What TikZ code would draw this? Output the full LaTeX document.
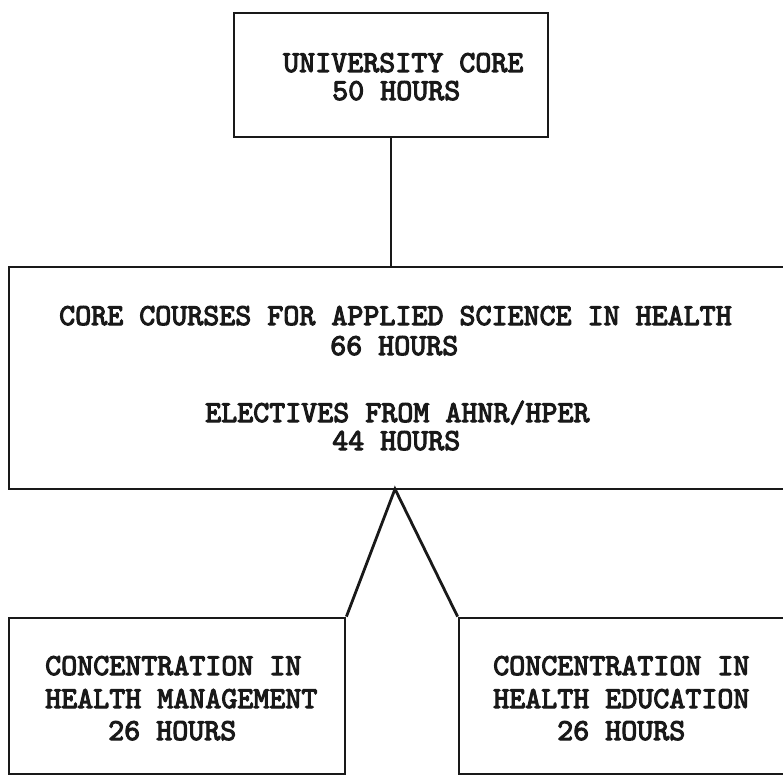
\documentclass[tikz,border=0pt]{standalone}
\usepackage{fontspec}
\newfontfamily\tw{lmmono10-regular.otf}[FakeBold=3.5]
\begin{document}
\begin{tikzpicture}[x=1pt,y=-1pt,
  box/.style={draw=black!90, line width=2.8pt, rectangle, inner sep=0pt},
  conn/.style={draw=black!90, line width=2.8pt, line join=miter},
  lbl/.style={inner sep=0pt, anchor=base west, text height=18pt, text depth=0pt,
    font=\tw\fontsize{30.5}{33}\selectfont, text=black!90}]
\useasboundingbox (0,0) rectangle (783,775);
% boxes
\node[box, minimum width=314pt, minimum height=124pt] (top) at (391,75) {};
\node[box, minimum width=791pt, minimum height=222pt] (mid) at (404.5,378) {};
\node[box, minimum width=336pt, minimum height=156pt] (ll) at (177,696) {};
\node[box, minimum width=341pt, minimum height=156pt] (lr) at (629.5,696) {};
% texts
\node[lbl] (t1) at (283,72) {UNIVERSITY CORE};
\node[lbl] (t2) at (332,100) {50 HOURS};
\node[lbl] (m1) at (59,325) {CORE COURSES FOR APPLIED SCIENCE IN HEALTH};
\node[lbl] (m2) at (330,355) {66 HOURS};
\node[lbl] (m3) at (205,422) {ELECTIVES FROM AHNR/HPER};
\node[lbl] (m4) at (332,450) {44 HOURS};
\node[lbl] (a1) at (45,675) {CONCENTRATION IN};
\node[lbl] (a2) at (45,708) {HEALTH MANAGEMENT};
\node[lbl] (a3) at (108,740) {26 HOURS};
\node[lbl] (b1) at (493,675) {CONCENTRATION IN};
\node[lbl] (b2) at (493,708) {HEALTH EDUCATION};
\node[lbl] (b3) at (557,740) {26 HOURS};
% connectors
\coordinate (apex) at (395,489);
\draw[conn] (top.south) -- (top.south |- mid.north);
\draw[conn] (ll.north east) -- (apex) -- (lr.north west);
\end{tikzpicture}
\end{document}
